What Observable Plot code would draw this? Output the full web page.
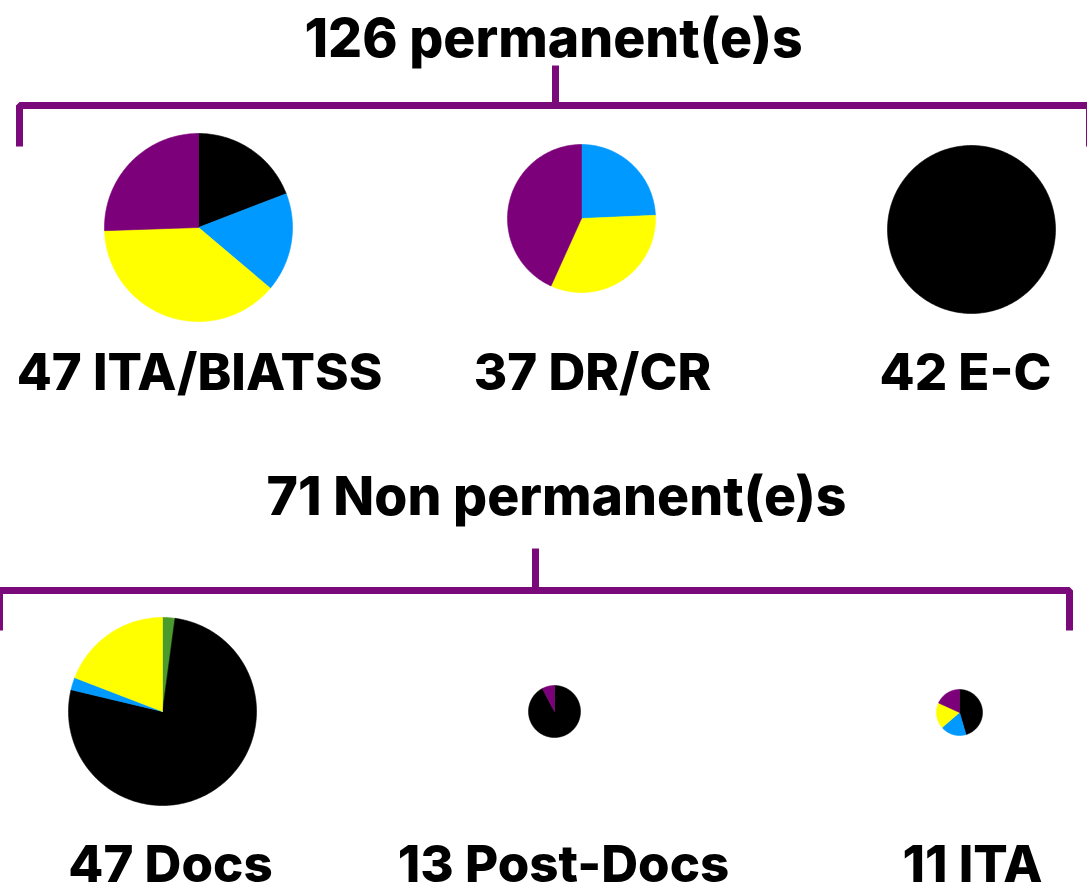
<!DOCTYPE html>
<html>
<head>
<meta charset="utf-8">
<script src="https://cdn.jsdelivr.net/npm/d3@7"></script>
<script src="https://cdn.jsdelivr.net/npm/@observablehq/plot@0.6"></script>
<style>
  html, body { margin: 0; padding: 0; background: #fff; overflow: hidden; }
  svg { display: block; }
</style>
</head>
<body>
<div id="chart"></div>
<script>
// ---------- DATA ----------
const headers = ["126 permanent(e)s", "71 Non permanent(e)s"];
const groups = ["ITA/BIATSS", "DR/CR", "E-C", "Docs", "Post-Docs", "ITA"];
const groupRow = [0, 0, 0, 1, 1, 1];
const totals = [47, 37, 42, 47, 13, 11];
// slice categories, drawn clockwise from 12 o'clock in this order
const categories = ["vert", "noir", "bleu", "jaune", "violet"];
const vert   = [0, 0, 0, 1, 0, 0];
const noir   = [9, 0, 42, 36, 12, 5];
const bleu   = [8, 9, 0, 1, 0, 2];
const jaune  = [18, 12, 0, 9, 0, 2];
const violet = [12, 16, 0, 0, 1, 2];
const series = [vert, noir, bleu, jaune, violet];

// ---------- STYLE / LAYOUT ----------
const W = 1087, H = 893;
const colors = ["#4b9a2c", "#000000", "#0099ff", "#ffff00", "#7b0079"];
const bracketColor = "#7a0a7a";
const font = "Inter, 'Open Sans', sans-serif";
const pieCenterX = [198, 581, 971, 162, 554, 959];
const pieCenterY = [227, 218, 229, 711, 711, 712];
const labelX = [199, 592, 965, 170, 563, 972];
const labelY = [373, 373, 373, 865, 865, 865];
const headerX = [553, 556];
const headerY = [39, 497];
const bracket = [
  {stemX: 555, stemTop: 65, barY: 105, left: 19, right: 1089, legBottom: 146},
  {stemX: 535, stemTop: 548, barY: 590, left: -1, right: 1069, legBottom: 630}
];
const radius = d3.scaleLinear([0, 47], [0, 94]);

// ---------- BUILD WEDGES ----------
const wedges = [];
groups.forEach((g, gi) => {
  const total = totals[gi];
  const r = Math.max(radius(total), 23);
  const cx = pieCenterX[gi], cy = pieCenterY[gi];
  let acc = 0;
  categories.forEach((c, ci) => {
    const v = series[ci][gi];
    if (!v) return;
    const a0 = acc / total * 2 * Math.PI;
    acc += v;
    const a1 = acc / total * 2 * Math.PI;
    const id = `${g}-${c}`;
    const full = v === total;
    if (!full) wedges.push({id, cat: c, x: cx, y: cy});
    const steps = Math.max(2, Math.ceil((a1 - a0) / (Math.PI / 180)));
    for (let k = 0; k <= steps; k++) {
      const a = a0 + (a1 - a0) * k / steps;
      wedges.push({id, cat: c, x: cx + r * Math.sin(a), y: cy - r * Math.cos(a)});
    }
    if (!full) wedges.push({id, cat: c, x: cx, y: cy});
  });
});

const bracketPts = [];
bracket.forEach((b, i) => {
  bracketPts.push({id: `bar${i}`, x: b.left, y: b.legBottom});
  bracketPts.push({id: `bar${i}`, x: b.left, y: b.barY});
  bracketPts.push({id: `bar${i}`, x: b.right, y: b.barY});
  bracketPts.push({id: `bar${i}`, x: b.right, y: b.legBottom});
  bracketPts.push({id: `stem${i}`, x: b.stemX, y: b.stemTop});
  bracketPts.push({id: `stem${i}`, x: b.stemX, y: b.barY});
});

const labels = groups.map((g, i) => ({text: `${totals[i]} ${g}`, x: labelX[i], y: labelY[i]}));
const heads = headers.map((h, i) => ({text: h, x: headerX[i], y: headerY[i]}));

const chart = Plot.plot({
  width: W,
  height: H,
  margin: 0,
  x: {domain: [0, W], range: [0, W], axis: null},
  y: {domain: [0, H], range: [0, H], axis: null},
  color: {domain: categories, range: colors},
  style: {background: "#fff", fontFamily: font},
  marks: [
    Plot.line(bracketPts, {x: "x", y: "y", z: "id", stroke: bracketColor, strokeWidth: 7,
      strokeLinejoin: "miter", strokeLinecap: "butt"}),
    Plot.line(wedges, {x: "x", y: "y", z: "id", fill: "cat", stroke: "cat", strokeWidth: 0.6,
      strokeLinejoin: "round"}),
    Plot.text(heads, {x: "x", y: "y", text: "text", fontSize: 53.5, fontWeight: 800,
      fill: "#000", textAnchor: "middle", lineAnchor: "middle"}),
    Plot.text(labels, {x: "x", y: "y", text: "text", fontSize: 51, fontWeight: 800,
      fill: "#000", textAnchor: "middle", lineAnchor: "middle"})
  ]
});
document.getElementById("chart").appendChild(chart);
</script>
</body>
</html>
